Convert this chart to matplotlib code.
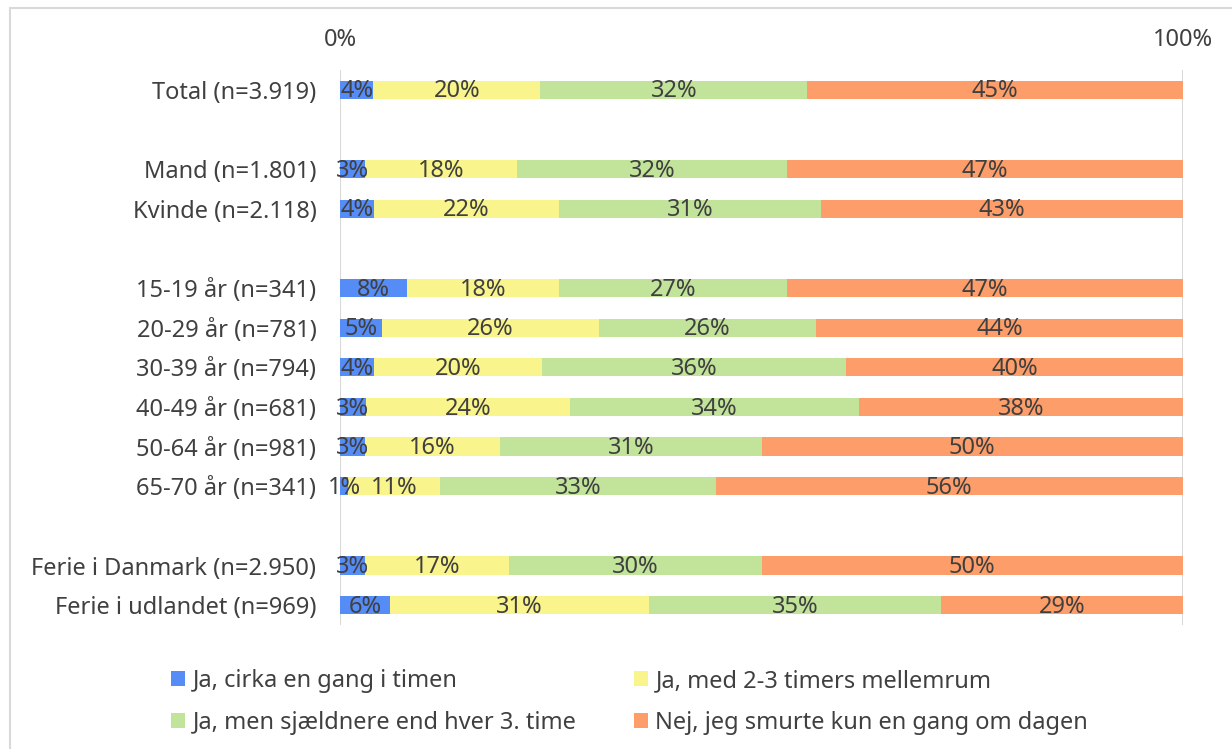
import matplotlib.pyplot as plt
import numpy as np
from matplotlib.patches import Rectangle

plt.rcParams['font.family'] = ['Noto Sans', 'DejaVu Sans']

# Row labels, with empty slots as group separators
groups = [
    ["Total (n=3.919)"],
    ["Mand (n=1.801)", "Kvinde (n=2.118)"],
    ["15-19 år (n=341)", "20-29 år (n=781)", "30-39 år (n=794)",
     "40-49 år (n=681)", "50-64 år (n=981)", "65-70 år (n=341)"],
    ["Ferie i Danmark (n=2.950)", "Ferie i udlandet (n=969)"],
]

series_names = [
    "Ja, cirka en gang i timen",
    "Ja, med 2-3 timers mellemrum",
    "Ja, men sjældnere end hver 3. time",
    "Nej, jeg smurte kun en gang om dagen",
]

hourly = [4, 3, 4, 8, 5, 4, 3, 3, 1, 3, 6]
every_2_3 = [20, 18, 22, 18, 26, 20, 24, 16, 11, 17, 31]
rarer = [32, 32, 31, 27, 26, 36, 34, 31, 33, 30, 35]
once_a_day = [45, 47, 43, 47, 44, 40, 38, 50, 56, 50, 29]

colors = ["#568CF6", "#F9F58C", "#C2E49A", "#FD9E6A"]
text_color = "#404040"
fs = 17

labels = []
ypos = []
pos = 0
for g in groups:
    for lab in g:
        labels.append(lab)
        ypos.append(pos)
        pos += 1
    pos += 1
ypos = np.array(ypos)

values = np.array([hourly, every_2_3, rarer, once_a_day], dtype=float)
shares = values / values.sum(axis=0) * 100

fig = plt.figure(figsize=(12.32, 7.49), dpi=100)
ax = fig.add_axes([340 / 1232, 1 - 625 / 749, (1183 - 340) / 1232, (625 - 70) / 749])

left = np.zeros(len(labels))
handles = []
for i in range(4):
    bars = ax.barh(ypos, shares[i], left=left, height=0.46, color=colors[i],
                   label=series_names[i], zorder=2)
    handles.append(bars)
    for y, l, w, v in zip(ypos, left, shares[i], values[i]):
        ax.text(l + w / 2, y + 0.04, f"{int(v)}%", ha="center", va="center",
                fontsize=fs, color=text_color, zorder=3)
    left += shares[i]

ax.set_xlim(0, 100)
ax.set_ylim(13.5, -0.5)
ax.set_yticks(ypos)
ax.set_yticklabels(labels)
ax.set_xticks([0, 100])
ax.set_xticklabels(["0%", "100%"])
ax.xaxis.tick_top()
ax.tick_params(axis="both", length=0, labelsize=fs, labelcolor=text_color)
ax.tick_params(axis="y", pad=17)
ax.tick_params(axis="x", pad=13)
for s in ax.spines.values():
    s.set_visible(False)
ax.grid(axis="x", color="#D9D9D9", linewidth=1.5, zorder=0)
ax.set_axisbelow(True)

# Outer frame
fig.patches.append(Rectangle((10 / 1232, -0.01), 1.02, 1 - 8 / 749 + 0.01,
                             transform=fig.transFigure, fill=False,
                             edgecolor="#D9D9D9", linewidth=1.5))

order = [0, 2, 1, 3]
fig.legend([handles[i] for i in order], [series_names[i] for i in order],
           ncol=2, loc="upper left", bbox_to_anchor=(150 / 1232, 1 - 648 / 749),
           frameon=False, fontsize=fs, labelcolor=text_color,
           handlelength=0.6, handleheight=0.6, handletextpad=0.3,
           columnspacing=2.45, labelspacing=0.75)

fig.savefig("out.png", dpi=100)
